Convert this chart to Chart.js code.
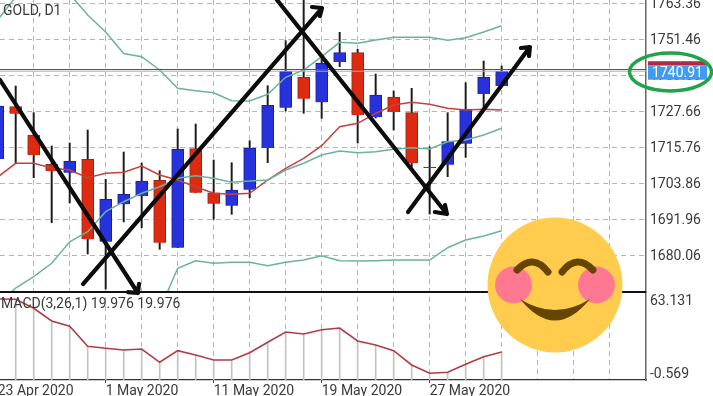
<!DOCTYPE html>
<html>
<head>
<meta charset="utf-8">
<title>GOLD, D1</title>
<script src="https://cdn.jsdelivr.net/npm/chart.js@4"></script>
<style>
    html, body { margin: 0; padding: 0; background: #fff; }
    canvas { display: block; }
</style>
</head>
<body>
<canvas id="goldChart" width="713" height="396"></canvas>
<script>
// one entry per trading day on screen, first one is 23 Apr 2020
var opens = [1711.89, 1729.18, 1719.82, 1710.14, 1707.36, 1711.79, 1684.55, 1696.92, 1699.66, 1704.85, 1682.57, 1715.30, 1700.75, 1696.45, 1701.74, 1715.53, 1728.85, 1738.90, 1730.63, 1743.96, 1747.03, 1725.68, 1732.39, 1727.20, 1709.20, 1710.01, 1716.95, 1733.38, 1736.02]
var highs = [1733.05, 1736.02, 1727.20, 1716.19, 1717.18, 1721.48, 1705.18, 1714.20, 1710.57, 1708.02, 1721.81, 1723.46, 1711.56, 1710.67, 1717.94, 1736.12, 1751.00, 1765.11, 1745.94, 1753.77, 1748.15, 1739.99, 1734.37, 1735.26, 1715.96, 1727.20, 1737.11, 1744.29, 1742.63]
var lows = [1708.25, 1710.57, 1705.71, 1690.83, 1697.35, 1680.49, 1668.92, 1691.07, 1689.18, 1682.04, 1682.57, 1700.75, 1691.96, 1693.61, 1699.10, 1710.67, 1727.76, 1727.00, 1725.34, 1742.40, 1717.18, 1725.44, 1721.48, 1709.25, 1693.71, 1706.04, 1712.45, 1728.75, 1736.02]
var closes = [1729.41, 1726.87, 1713.21, 1707.92, 1711.23, 1685.35, 1698.57, 1700.22, 1704.62, 1684.22, 1715.10, 1700.75, 1697.11, 1701.64, 1715.53, 1729.64, 1740.88, 1731.82, 1743.53, 1747.03, 1726.44, 1733.05, 1727.43, 1710.57, 1708.90, 1717.61, 1728.42, 1738.90, 1740.91]

var upperBand = [1757.84, 1765.44, 1769.41, 1769.41, 1766.43, 1759.49, 1753.87, 1746.76, 1745.71, 1741.31, 1735.26, 1734.47, 1733.81, 1731.16, 1731.06, 1733.28, 1738.90, 1741.31, 1745.71, 1750.47, 1750.14, 1751.23, 1752.12, 1752.12, 1752.12, 1751.13, 1751.99, 1753.87, 1755.95]
var middleBand = [1663.63, 1669.25, 1672.98, 1677.41, 1684.55, 1687.86, 1694.47, 1697.78, 1700.55, 1702.73, 1705.51, 1706.37, 1705.51, 1704.19, 1704.62, 1704.95, 1708.25, 1710.47, 1713.21, 1714.53, 1713.97, 1714.30, 1715.10, 1715.63, 1715.20, 1717.61, 1718.17, 1719.82, 1722.04]
var lowerBand = [null, null, null, null, null, null, null, null, null, 1661.98, 1675.76, 1678.27, 1677.41, 1677.74, 1677.74, 1676.62, 1677.74, 1678.50, 1679.93, 1678.27, 1678.17, 1678.27, 1678.50, 1678.50, 1678.50, 1682.57, 1685.12, 1686.44, 1688.19]
var redAverage = [1705.94, 1710.47, 1710.47, 1708.92, 1708.25, 1705.71, 1707.16, 1707.49, 1709.58, 1706.60, 1704.95, 1702.73, 1700.55, 1700.22, 1700.55, 1704.95, 1708.82, 1712.12, 1716.29, 1722.57, 1723.69, 1727.00, 1729.74, 1730.63, 1729.97, 1728.65, 1728.09, 1728.32, 1728.09]
var macdValues = [64.01, 63.74, 55.86, 44.73, 40.09, 22.57, 20.82, 19.33, 20.21, 8.56, 18.72, 14.95, 10.57, 10.57, 16.97, 26.08, 35.10, 33.35, 37.11, 38.60, 27.21, 23.71, 18.72, 6.19, -1.08, -0.20, 6.80, 13.46, 17.58]

var priceTicks = [1763.36, 1751.46, 1739.56, 1727.66, 1715.76, 1703.86, 1691.96, 1680.06]
var macdTicks = [63.131, -0.569]
var gridSlots = [2, 4, 6, 8, 10, 12, 14, 16, 18, 20, 22, 24, 26, 28, 30, 32, 34]
var dateTicks = { 0: "23 Apr 2020", 6: "1 May 2020", 12: "11 May 2020", 18: "19 May 2020", 24: "27 May 2020" }

var askPrice = 1741.48
var bidPrice = 1740.91
var priceText = "1740.91"
var symbolText = "GOLD, D1"
var macdText = "MACD(3,26,1) 19.976 19.976"

// the hand drawn arrows, in slot / price units
var arrowOne = [[0.13, 1738.0], [7.79, 1667.6], [7.85, 1670.6], [7.79, 1667.6], [7.24, 1667.9]]
var arrowTwo = [[4.74, 1670.57], [18.02, 1761.8], [17.46, 1762.14], [18.02, 1761.8], [17.9, 1759.16]]
var arrowThree = [[15.52, 1764.45], [24.96, 1693.71], [24.29, 1694.37], [24.96, 1693.71], [24.85, 1696.69]]
var arrowFour = [[22.8, 1694.37], [29.57, 1748.91], [29.07, 1748.58], [29.57, 1748.91], [29.52, 1745.94]]

var BLUE = "#2832dc"
var RED = "#dd2a10"
var GREEN = "#6cb39b"
var GRID = "#b6b6b6"
var CHART_FONT = "Roboto"

function candleBody() {
    return opens.map(function (o, i) { return { x: i, y: [o, closes[i]] } })
}
function candleWick() {
    return highs.map(function (h, i) { return { x: i, y: [lows[i], h] } })
}
function series(values) {
    return values.map(function (v, i) { return { x: i, y: v } })
}
function pairs(list) {
    return list.map(function (p) { return { x: p[0], y: p[1] } })
}
function lineSet(values, color, width, axis, order) {
    return { type: "line", data: values, yAxisID: axis, borderColor: color, borderWidth: width, pointRadius: 0, tension: 0, order: order, spanGaps: false }
}
function arrowSet(list) {
    var set = lineSet(pairs(list), "#0c0c0c", 4.2, "y", 1)
    set.clip = false
    set.borderCapStyle = "round"
    set.borderJoinStyle = "round"
    return set
}
function bodyColor(ctx) {
    var i = ctx.dataIndex
    return closes[i] >= opens[i] ? BLUE : RED
}
function bodyBorder(ctx) {
    var i = ctx.dataIndex
    if (Math.abs(closes[i] - opens[i]) < 0.5) return "#222"
    return closes[i] >= opens[i] ? "#1b2196" : "#8c2a18"
}

// everything that is not a series: labels, separator, price tag and the stickers
var overlayPlugin = {
    id: "overlay",
    afterDraw: function (chart) {
        var c = chart.ctx
        var area = chart.chartArea
        var priceY = chart.scales.y
        c.save()

        // separator between the panes
        c.strokeStyle = "#111"
        c.lineWidth = 2
        c.beginPath()
        c.moveTo(area.left, priceY.bottom)
        c.lineTo(area.right, priceY.bottom)
        c.stroke()

        c.font = "14px " + CHART_FONT
        c.textBaseline = "middle"
        c.textAlign = "left"
        c.fillStyle = "#3a3a3a"
        c.fillText(symbolText, 3, 11.5)
        c.fillText(macdText, 1, 304)

        // current price tag
        var tagY = priceY.getPixelForValue(bidPrice)
        c.fillStyle = "#b02a45"
        c.fillRect(648, tagY - 10, 59, 4)
        c.fillStyle = "#3f9cf0"
        c.fillRect(648, tagY - 6, 59, 14.5)
        c.fillStyle = "#fff"
        c.textAlign = "center"
        c.fillText(priceText, 677.5, tagY + 2)

        // green circle around the price tag
        c.strokeStyle = "#22a34a"
        c.lineWidth = 3.5
        c.beginPath()
        c.ellipse(670.5, 72, 41, 19, 0, 0, Math.PI * 2)
        c.stroke()

        drawSmiley(c, 555, 285, 67.5)
        c.restore()
    }
}

function drawSmiley(c, cx, cy, r) {
    c.fillStyle = "#ffcc4d"
    c.beginPath()
    c.arc(cx, cy, r, 0, Math.PI * 2)
    c.fill()

    c.fillStyle = "#ff7892"
    c.beginPath()
    c.arc(cx - 41.5, cy, 18.5, 0, Math.PI * 2)
    c.arc(cx + 41.5, cy, 18.5, 0, Math.PI * 2)
    c.fill()

    c.strokeStyle = "#664500"
    c.lineWidth = 7
    c.lineCap = "round"
    c.beginPath()
    c.moveTo(cx - 38, cy - 15)
    c.quadraticCurveTo(cx - 22, cy - 32, cx - 7, cy - 13)
    c.moveTo(cx + 7, cy - 13)
    c.quadraticCurveTo(cx + 22, cy - 32, cx + 38, cy - 15)
    c.stroke()

    c.fillStyle = "#664500"
    c.beginPath()
    c.moveTo(cx - 35, cy + 14)
    c.quadraticCurveTo(cx, cy + 57, cx + 35, cy + 14)
    c.quadraticCurveTo(cx, cy + 36, cx - 35, cy + 14)
    c.fill()
}

var chartData = {
    datasets: [
        lineSet(pairs([[0, askPrice], [36.1, askPrice]]), "#ad2c3e", 1.2, "y", 2),
        lineSet(pairs([[0, bidPrice], [36.1, bidPrice]]), "#adadad", 1, "y", 2.5),
        lineSet(series(upperBand), GREEN, 1.5, "y", 3),
        lineSet(series(middleBand), GREEN, 1.5, "y", 3),
        lineSet(series(lowerBand), GREEN, 1.5, "y", 3),
        lineSet(series(redAverage), "#c8403c", 1.5, "y", 3),
        lineSet(series(macdValues), "#b23c46", 1.6, "macd", 3),
        { type: "bar", data: candleBody(), yAxisID: "y", grouped: false, barThickness: 12, backgroundColor: bodyColor, borderColor: bodyBorder, borderWidth: 1, order: 5 },
        { type: "bar", data: candleWick(), yAxisID: "y", grouped: false, barThickness: 1.3, backgroundColor: "#1a1a1a", order: 6 },
        { type: "bar", data: macdValues.map(function (v, i) { return { x: i, y: [-6.95, v] } }), yAxisID: "macd", grouped: false, barThickness: 1, backgroundColor: "#c2c2c2", order: 6 },
        arrowSet(arrowOne),
        arrowSet(arrowTwo),
        arrowSet(arrowThree),
        arrowSet(arrowFour)
    ]
}

function noPadding(scale) {
    scale.paddingLeft = 0
    scale.paddingRight = 0
    scale.paddingTop = 0
    scale.paddingBottom = 0
}

var gridDash = [5, 4]
new Chart(document.getElementById("goldChart").getContext("2d"), {
    type: "bar",
    data: chartData,
    plugins: [overlayPlugin],
    options: {
        responsive: false,
        animation: false,
        layout: { padding: 0 },
        plugins: { legend: { display: false }, tooltip: { enabled: false } },
        scales: {
            x: {
                type: "linear",
                position: "bottom",
                offset: false,
                min: 0.128,
                max: 36.02,
                afterBuildTicks: function (scale) {
                    scale.ticks = [0].concat(gridSlots).map(function (s) { return { value: s } })
                },
                afterFit: function (scale) {
                    scale.height = 16
                    noPadding(scale)
                },
                ticks: {
                    autoSkip: false,
                    maxRotation: 0,
                    minRotation: 0,
                    align: "start",
                    padding: 0,
                    color: "#3a3a3a",
                    font: { family: CHART_FONT, size: 14 },
                    callback: function (v) { return dateTicks[v] || "" }
                },
                grid: {
                    offset: false,
                    color: GRID,
                    lineWidth: 1,
                    tickLength: 3,
                    tickColor: function (ctx) { return ctx.tick && dateTicks[ctx.tick.value] ? "#444" : "rgba(0,0,0,0)" }
                },
                border: { color: "#333", width: 1.2, dash: gridDash }
            },
            y: {
                position: "right",
                stack: "panes",
                stackWeight: 292,
                min: 1667.93,
                max: 1764.45,
                afterBuildTicks: function (scale) {
                    scale.ticks = priceTicks.map(function (v) { return { value: v } })
                },
                afterFit: function (scale) {
                    scale.width = 67
                    noPadding(scale)
                },
                ticks: {
                    autoSkip: false,
                    padding: 4,
                    labelOffset: 1.5,
                    color: "#3a3a3a",
                    font: { family: CHART_FONT, size: 14 },
                    callback: function (v) { return v.toFixed(2) }
                },
                grid: { color: GRID, lineWidth: 1, drawTicks: false },
                border: { color: "#666", width: 1.5, dash: gridDash }
            },
            macd: {
                position: "right",
                stack: "panes",
                stackWeight: 88,
                min: -6.95,
                max: 70.14,
                afterBuildTicks: function (scale) {
                    scale.ticks = macdTicks.map(function (v) { return { value: v } })
                },
                afterFit: function (scale) {
                    scale.width = 67
                    noPadding(scale)
                },
                ticks: {
                    autoSkip: false,
                    padding: 4,
                    labelOffset: 1.5,
                    color: "#3a3a3a",
                    font: { family: CHART_FONT, size: 14 },
                    callback: function (v) { return String(v) }
                },
                grid: { drawOnChartArea: false, drawTicks: false },
                border: { color: "#666", width: 1.5, dash: gridDash }
            }
        }
    }
})
</script>
</body>
</html>
